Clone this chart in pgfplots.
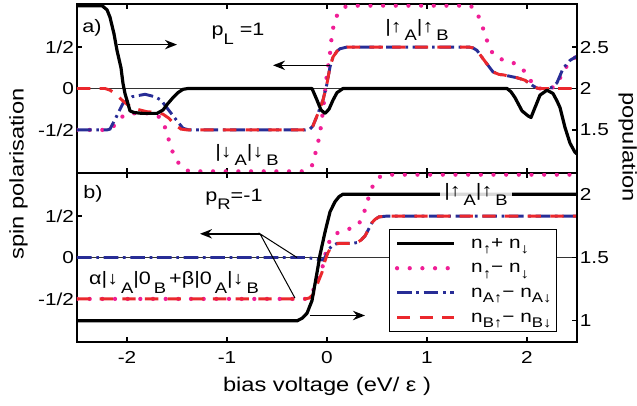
\documentclass[border=0pt]{standalone}
\usepackage{fontspec}
\setmainfont{Liberation Sans}[FakeStretch=1.2]
\usepackage{pgfplots}
\pgfplotsset{compat=1.18}
\usetikzlibrary{arrows.meta}

\definecolor{pk}{RGB}{240,30,150}
\definecolor{bl}{RGB}{40,45,150}
\definecolor{rd}{RGB}{235,40,45}

\newcommand\tl{\fontsize{13}{15}\selectfont}
\newcommand\lab{\fontsize{14.8}{17}\selectfont}
\newcommand\ann{\fontsize{13.5}{16}\selectfont}
\newcommand\sub[1]{\raisebox{-6.5pt}{\fontsize{11.5}{12}\selectfont #1}}
\newcommand\lsub[1]{\raisebox{-4pt}{\fontsize{10.5}{12}\selectfont #1}}

\tikzset{arr/.style={-{Stealth[length=9pt,width=7pt]}, line width=1.2pt},
  lbl/.style={anchor=base, font=\ann, inner sep=0pt}}

\pgfplotsset{
  base/.style={scale only axis, width=375pt, height=126.75pt,
    xmin=-2.5, xmax=2.5, xtick={-2,-1,0,1,2},
    tick align=inside, major tick length=4pt,
    axis line style={line width=1.1pt},
    every tick/.style={black, line width=0.9pt},
    tick label style={font=\tl},
    yticklabel style={inner xsep=2pt},
    xticklabel style={yshift=-3.5pt}},
  pol/.style={base, ymin=-1.02, ymax=1.02, ytick={-0.5,0,0.5},
    yticklabels={-1/2,0,1/2}, ytick pos=left, xtick pos=both},
  pop/.style={base, hide x axis, axis y line*=right, ytick pos=right},
  tot/.style={black, line width=2.4pt, line join=round},
  dif/.style={pk, line width=3.2pt, line cap=round, dash pattern=on 0pt off 9.5pt},
  sa/.style={bl, line width=2.2pt, dash pattern=on 11pt off 3.5pt on 2pt off 3.5pt},
  sb/.style={rd, line width=2.2pt, dash pattern=on 10pt off 7pt},
  zero/.style={black!80, line width=0.6pt, forget plot}
}

\begin{document}
\begin{tikzpicture}
% ---------------- panel a ----------------
\begin{axis}[pol, at={(0,126.75pt)}, anchor=south west, xticklabels={}]
\addplot[zero] coordinates {(-2.5,0) (2.5,0)};
\addplot[dif] coordinates {
(-2.5,-0.5) (-2.2,-0.5) (-2.15,-0.47) (-2.1,-0.42) (-2.04,-0.33) (-1.97,-0.3)
(-1.8,-0.3) (-1.7,-0.32) (-1.64,-0.39) (-1.59,-0.59) (-1.54,-0.78) (-1.49,-0.89)
(-1.44,-0.96) (-1.38,-1) (-0.24,-1) (-0.19,-0.98) (-0.15,-0.93) (-0.1,-0.71)
(-0.07,-0.54) (-0.04,-0.27) (0,0.18) (0.03,0.42) (0.05,0.66) (0.08,0.84)
(0.13,0.94) (0.2,1) (1.43,1) (1.47,0.97) (1.5,0.92) (1.55,0.76) (1.58,0.66)
(1.61,0.54) (1.65,0.44) (1.71,0.36) (1.8,0.34) (1.88,0.3) (1.95,0.24)
(2.01,0.16) (2.06,0.04) (2.1,0.01) (2.13,0) (2.23,0) (2.27,0.02) (2.3,0.05)
(2.36,0.2) (2.43,0.33) (2.5,0.39)};
\addplot[sa] coordinates {
(-2.5,-0.5) (-2.2,-0.5) (-2.17,-0.49) (-2.11,-0.35) (-2.04,-0.18) (-1.95,-0.1)
(-1.82,-0.07) (-1.72,-0.1) (-1.66,-0.14) (-1.59,-0.25) (-1.52,-0.36)
(-1.44,-0.48) (-1.38,-0.5) (-0.22,-0.5) (-0.17,-0.49) (-0.14,-0.45)
(-0.09,-0.3) (-0.04,-0.14) (0,0.06) (0.03,0.26) (0.06,0.38) (0.1,0.45)
(0.13,0.48) (0.2,0.5) (1.42,0.5) (1.46,0.49) (1.5,0.46) (1.56,0.36)
(1.61,0.28) (1.66,0.2) (1.72,0.17) (1.76,0.165) (1.9,0.13) (1.98,0.1)
(2.05,0.04) (2.1,0.005) (2.12,0) (2.22,0) (2.26,0.02) (2.3,0.07) (2.36,0.24)
(2.43,0.34) (2.5,0.39)};
\addplot[sb] coordinates {
(-2.5,0) (-2.22,0) (-2.17,-0.02) (-2.12,-0.06) (-2.05,-0.14) (-1.99,-0.2)
(-1.9,-0.25) (-1.8,-0.28) (-1.7,-0.29) (-1.64,-0.31) (-1.58,-0.36)
(-1.52,-0.44) (-1.46,-0.49) (-1.4,-0.5) (-0.22,-0.5) (-0.17,-0.49)
(-0.14,-0.45) (-0.09,-0.3) (-0.04,-0.14) (0,0.06) (0.03,0.26) (0.06,0.38)
(0.1,0.45) (0.13,0.48) (0.2,0.5) (1.42,0.5) (1.46,0.49) (1.5,0.46)
(1.56,0.36) (1.61,0.28) (1.66,0.2) (1.72,0.17) (1.76,0.165) (1.9,0.13)
(1.98,0.1) (2.05,0.04) (2.1,0.005) (2.12,0) (2.5,0)};
\node[lbl] at (axis cs:-2.35,0.68) {a)};
\node[lbl] at (axis cs:-0.89,0.64) {p\sub{L} =1};
\node[lbl] at (axis cs:-0.8,-0.83) {|↓\,\sub{A}|↓\,\sub{B}};
\node[lbl] at (axis cs:0.9,0.68) {|↑\,\sub{A}|↑\,\sub{B}};
\draw[arr] (axis cs:-2.09,0.53) -- (axis cs:-1.5,0.53);
\draw[arr] (axis cs:0.03,0.28) -- (axis cs:-0.54,0.28);
\end{axis}
\begin{axis}[pop, at={(0,126.75pt)}, anchor=south west,
  ymin=0.98, ymax=3.02, ytick={1.5,2,2.5}, yticklabels={1.5,2,2.5}]
\addplot[tot] coordinates {
(-2.5,3) (-2.25,3) (-2.2,2.95) (-2.17,2.86) (-2.13,2.66) (-2.1,2.46)
(-2.06,2.25) (-2.04,2.06) (-2.02,1.94) (-1.97,1.73) (-1.93,1.71) (-1.85,1.7)
(-1.7,1.7) (-1.64,1.74) (-1.59,1.82) (-1.54,1.89) (-1.49,1.95) (-1.44,1.99)
(-1.39,2) (-0.15,2) (-0.1,1.86) (-0.06,1.74) (-0.02,1.7) (0.02,1.75)
(0.06,1.86) (0.1,1.95) (0.16,2) (1.8,2) (1.84,1.96) (1.88,1.89) (1.95,1.73)
(2.01,1.67) (2.04,1.65) (2.08,1.77) (2.13,1.92) (2.2,1.98) (2.26,1.94)
(2.3,1.85) (2.33,1.77) (2.38,1.53) (2.43,1.34) (2.48,1.23) (2.5,1.21)};
\end{axis}
% ---------------- panel b ----------------
\begin{axis}[pol, at={(0,0)}, anchor=south west,
  xticklabels={-2,-1,0,1,2},
  legend style={at={(axis description cs:0.624,0.669)}, anchor=north west,
    draw=black, line width=0.9pt, fill=white, font=\tl,
    inner xsep=4pt, inner ysep=3pt, row sep=3.5pt, column sep=11pt,
    nodes={inner sep=0pt, text height=11pt, text depth=4pt}},
  legend cell align=left,
  legend image code/.code={\draw[#1] (0pt,0pt) -- (43pt,0pt);}]
\addplot[zero] coordinates {(-2.5,0) (2.5,0)};
\addlegendimage{tot}
\addplot[dif] coordinates {
(-2.5,-0.5) (-0.22,-0.5) (-0.18,-0.47) (-0.14,-0.4) (-0.09,-0.27)
(-0.05,-0.14) (-0.02,0.02) (0.01,0.16) (0.06,0.27) (0.13,0.31) (0.21,0.34)
(0.3,0.38) (0.33,0.43) (0.36,0.5) (0.4,0.66) (0.43,0.78) (0.46,0.87)
(0.5,0.95) (0.55,0.99) (0.6,1) (2.5,1)};
\addplot[sa] coordinates {
(-2.5,0) (-0.2,0) (-0.1,-0.02) (-0.04,-0.03) (-0.01,0.02) (0.02,0.1)
(0.05,0.14) (0.1,0.17) (0.25,0.17) (0.3,0.18) (0.34,0.21) (0.38,0.26)
(0.42,0.35) (0.45,0.42) (0.48,0.46) (0.52,0.49) (0.6,0.5) (2.5,0.5)};
\addplot[sb] coordinates {
(-2.5,-0.5) (-0.22,-0.5) (-0.18,-0.49) (-0.14,-0.45) (-0.09,-0.3)
(-0.05,-0.18) (-0.02,-0.04) (0.01,0.06) (0.04,0.12) (0.08,0.16) (0.12,0.17)
(0.25,0.17) (0.3,0.18) (0.34,0.21) (0.38,0.26) (0.42,0.35) (0.45,0.42)
(0.48,0.46) (0.52,0.49) (0.6,0.5) (2.5,0.5)};
\legend{n\lsub{↑}+ n\lsub{↓}, n\lsub{↑}− n\lsub{↓}, n\lsub{A↑}− n\lsub{A↓}, n\lsub{B↑}− n\lsub{B↓}}
\node[lbl] at (axis cs:-2.34,0.71) {b)};
\node[lbl] at (axis cs:-0.93,0.68) {p\sub{R}=-1};
\node[lbl] at (axis cs:-1.53,-0.33)
  {α|↓\,\sub{A}|0\,\sub{B}\,+β|0\,\sub{A}|↓\,\sub{B}};
\draw[arr] (axis cs:-0.67,0.286) -- (axis cs:-1.27,0.286);
\draw[line width=0.75pt] (axis cs:-0.3,0) -- (axis cs:-0.67,0.286) -- (axis cs:-0.32,-0.49);
\draw[arr] (axis cs:-0.17,-0.7) -- (axis cs:0.38,-0.7);
\end{axis}
\begin{axis}[pop, at={(0,0)}, anchor=south west,
  ymin=0.833, ymax=2.167, ytick={1,1.5,2}, yticklabels={1,1.5,2}]
\addplot[tot] coordinates {
(-2.5,1) (-0.3,1) (-0.25,1.02) (-0.2,1.06) (-0.15,1.16) (-0.1,1.38)
(-0.07,1.52) (-0.02,1.7) (0.03,1.86) (0.08,1.94) (0.12,1.98) (0.16,2) (2.5,2)};
\node[fill=white, fill opacity=0.85, text opacity=1, font=\ann,
  inner xsep=3pt, inner ysep=2pt] at (axis cs:1.49,2.0) {|↑\,\sub{A}|↑\,\sub{B}};
\end{axis}
% labels
\node[rotate=90, font=\lab] at (-43.9pt,126pt) {spin polarisation};
\node[rotate=-90, font=\lab] at (413pt,146.25pt) {population};
\node[anchor=base, font=\lab] at (187.5pt,-36.75pt) {bias voltage (eV/ ε )};
\pgfresetboundingbox
\path (-57.75pt,-47.25pt) rectangle (420pt,256.5pt);
\end{tikzpicture}
\end{document}
